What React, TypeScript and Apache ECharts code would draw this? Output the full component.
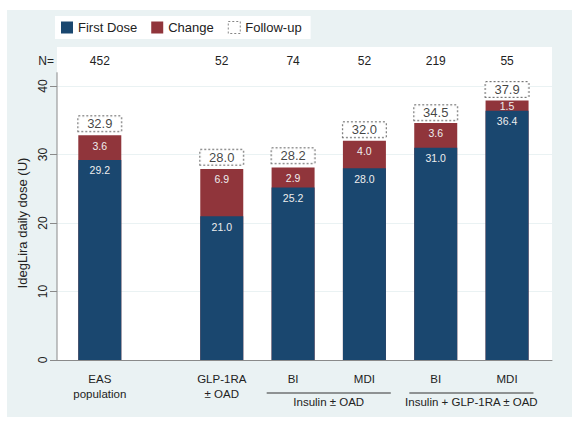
import React, { useEffect, useRef } from "react";
import * as echarts from "echarts";

// ---- data ----
const categories = ["EAS\npopulation", "GLP-1RA\n± OAD", "BI", "MDI", "BI", "MDI"];
const nValues = [452, 52, 74, 52, 219, 55];
const firstDose = [29.2, 21.0, 25.2, 28.0, 31.0, 36.4];
const change = [3.6, 6.9, 2.9, 4.0, 3.6, 1.5];
const followUp = [32.9, 28.0, 28.2, 32.0, 34.5, 37.9];
const groupLabels = ["Insulin ± OAD", "Insulin + GLP-1RA ± OAD"];
const groupMembers = [
  [2, 3],
  [4, 5],
];

// ---- layout (slot positions along the x band, in axis units) ----
const barSlots = [0.6, 2.31, 3.31, 4.31, 5.31, 6.31];
const xMax = 6.94;

const FONT = "'Liberation Sans', Arial, sans-serif";
const NAVY = "#1a476f";
const MAROON = "#90353b";
const BG = "#eaf2f3";
const AXIS = "#8a8a8a";

export default function App() {
  const ref = useRef<HTMLDivElement>(null);

  useEffect(() => {
    document.body.style.margin = "0";
    const chart = echarts.init(ref.current!, null, { renderer: "svg" });
    const slotIndex = (v: number) => {
      let best = 0;
      for (let i = 1; i < barSlots.length; i++) {
        if (Math.abs(barSlots[i] - v) < Math.abs(barSlots[best] - v)) best = i;
      }
      return best;
    };
    const inBarLabel = {
      show: true,
      position: "insideTop",
      distance: 5,
      color: "#eeeeee",
      fontSize: 10.5,
      fontFamily: FONT,
    };

    chart.setOption({
      animation: false,
      backgroundColor: "#fff",
      textStyle: { fontFamily: FONT },
      legend: {
        left: 55,
        top: 16,
        padding: [5, 9, 5, 6],
        backgroundColor: "#fff",
        itemWidth: 12,
        itemHeight: 12,
        itemGap: 14,
        textStyle: { fontSize: 13, color: "#222", fontFamily: FONT },
        data: [
          { name: "First Dose", icon: "rect" },
          { name: "Change", icon: "rect" },
          {
            name: "Follow-up",
            icon: "rect",
            itemStyle: { color: "#fff", borderColor: "#666", borderWidth: 1, borderType: [2, 2] },
          },
        ],
      },
      grid: { left: 57, top: 86, width: 495, height: 274, show: true, backgroundColor: "#fff", borderWidth: 0 },
      xAxis: {
        type: "value",
        min: 0,
        max: xMax,
        axisLine: { lineStyle: { color: AXIS } },
        axisTick: { show: false },
        splitLine: { show: false },
        axisLabel: {
          customValues: barSlots,
          formatter: (v: number) => categories[slotIndex(v)],
          color: "#222",
          fontSize: 11.5,
          lineHeight: 15,
          margin: 11,
          fontFamily: FONT,
        },
      },
      yAxis: {
        type: "value",
        min: 0,
        max: 40,
        interval: 10,
        axisLine: { show: false },
        axisTick: { show: true, length: 7, lineStyle: { color: AXIS } },
        splitLine: { lineStyle: { color: BG } },
        axisLabel: { rotate: 90, margin: 8, fontSize: 12, color: "#222", fontFamily: FONT },
      },
      series: [
        {
          // full bar (first dose + change); the red part shows above the blue one
          name: "Change",
          type: "bar",
          barWidth: 43,
          barGap: "-100%",
          itemStyle: { color: MAROON },
          data: change.map((v, i) => ({
            value: [barSlots[i], firstDose[i] + v],
            label: v < 2 ? { distance: 0 } : undefined,
          })),
          label: { ...inBarLabel, formatter: (p: any) => change[p.dataIndex].toFixed(1) },
        },
        {
          name: "First Dose",
          type: "bar",
          barWidth: 43,
          barGap: "-100%",
          itemStyle: { color: NAVY },
          data: firstDose.map((v, i) => [barSlots[i], v]),
          label: { ...inBarLabel, formatter: (p: any) => firstDose[p.dataIndex].toFixed(1) },
        },
        {
          name: "Follow-up",
          type: "scatter",
          symbol: "rect",
          symbolSize: 1,
          itemStyle: { color: "rgba(0,0,0,0)" },
          data: followUp.map((v, i) => [barSlots[i], v]),
          label: {
            show: true,
            position: "top",
            distance: 3,
            formatter: (p: any) => followUp[p.dataIndex].toFixed(1),
            color: "#111",
            fontSize: 13,
            fontFamily: FONT,
            width: 41,
            height: 13,
            lineHeight: 13,
            align: "center",
            padding: [1, 1, 1, 1],
            borderColor: "#555",
            borderWidth: 1,
            borderType: [2, 2],
            backgroundColor: "#fff",
          },
        },
      ],
    });

    const px = (v: number) => chart.convertToPixel({ xAxisIndex: 0 }, v) as number;
    const py = (v: number) => chart.convertToPixel({ yAxisIndex: 0 }, v) as number;
    const x0 = px(0);
    const xR = px(xMax);
    const y0 = py(0);
    const y40 = py(40);

    const txt = (text: string, x: number, y: number, extra: any = {}) => ({
      type: "text",
      x,
      y,
      silent: true,
      style: {
        text,
        fill: "#222",
        fontSize: 12,
        fontFamily: FONT,
        align: "center",
        verticalAlign: "middle",
        ...extra,
      },
    });

    const graphics: any[] = [
      { type: "rect", z: -10, silent: true, shape: { x: 7, y: 10, width: 565, height: 407 }, style: { fill: BG } },
      { type: "rect", z: -5, silent: true, shape: { x: x0, y: y40 - 39, width: xR - x0, height: 39 }, style: { fill: "#fff" } },
      { type: "line", silent: true, shape: { x1: x0, y1: y0, x2: x0, y2: py(42) }, style: { stroke: AXIS, lineWidth: 1 } },
      txt("N=", x0 - 3, y40 - 25, { align: "right" }),
      { ...txt("IdegLira daily dose (U)", 22, py(20), { fontSize: 13 }), rotation: Math.PI / 2 },
    ];
    nValues.forEach((n, i) => graphics.push(txt(String(n), px(barSlots[i]), y40 - 25)));
    groupLabels.forEach((g, k) => {
      const [a, b] = groupMembers[k];
      const xa = px(barSlots[a] - 0.37);
      const xb = px(barSlots[b] + 0.37);
      graphics.push({
        type: "line",
        silent: true,
        shape: { x1: xa, y1: y0 + 33, x2: xb, y2: y0 + 33 },
        style: { stroke: "#333", lineWidth: 1 },
      });
      graphics.push(txt(g, (xa + xb) / 2, y0 + 42, { fontSize: 11.5 }));
    });
    chart.setOption({ graphic: graphics });

    return () => chart.dispose();
  }, []);

  return <div ref={ref} style={{ width: 574, height: 421 }} />;
}
